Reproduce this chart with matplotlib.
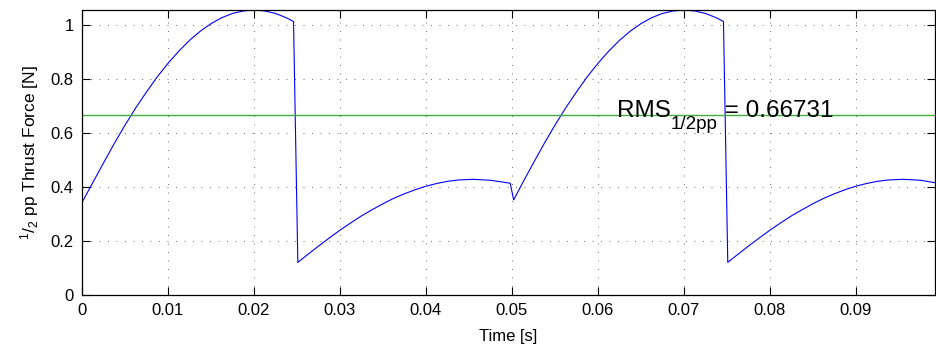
import numpy as np
import matplotlib.pyplot as plt

plt.rcParams['font.family'] = ['Liberation Sans', 'DejaVu Sans']
plt.rcParams['mathtext.fontset'] = 'custom'
plt.rcParams['mathtext.rm'] = 'Liberation Sans'
plt.rcParams['mathtext.it'] = 'Liberation Sans'

# time [s] and half peak-to-peak thrust force [N]
time = [0.0, 0.00125, 0.0025, 0.00375, 0.005, 0.00625, 0.0075, 0.00875, 0.01, 0.01125,
        0.0125, 0.01375, 0.015, 0.01625, 0.0175, 0.01875, 0.02, 0.02125, 0.0225, 0.02375,
        0.0246,
        0.0251, 0.02625, 0.0275, 0.02875, 0.03, 0.03125, 0.0325, 0.03375, 0.035, 0.03625,
        0.0375, 0.03875, 0.04, 0.04125, 0.0425, 0.04375, 0.0455, 0.0475, 0.0498,
        0.0502, 0.05125, 0.0525, 0.05375, 0.055, 0.05625, 0.0575, 0.05875, 0.06, 0.06125,
        0.0625, 0.06375, 0.065, 0.06625, 0.0675, 0.06875, 0.07, 0.07125, 0.0725, 0.07375,
        0.0746,
        0.0751, 0.07625, 0.0775, 0.07875, 0.08, 0.08125, 0.0825, 0.08375, 0.085, 0.08625,
        0.0875, 0.08875, 0.09, 0.09125, 0.0925, 0.09375, 0.0955, 0.0975, 0.0992]
force = [0.343, 0.416, 0.489, 0.561, 0.629, 0.693, 0.752, 0.808, 0.858, 0.903,
         0.943, 0.977, 1.005, 1.027, 1.043, 1.052, 1.0556, 1.052, 1.043, 1.027,
         1.013,
         0.121, 0.150, 0.181, 0.211, 0.240, 0.267, 0.293, 0.316, 0.338, 0.358,
         0.375, 0.390, 0.403, 0.413, 0.421, 0.426, 0.4285, 0.425, 0.414,
         0.352, 0.416, 0.489, 0.561, 0.629, 0.693, 0.752, 0.808, 0.858, 0.903,
         0.943, 0.977, 1.005, 1.027, 1.043, 1.052, 1.0556, 1.052, 1.043, 1.027,
         1.013,
         0.121, 0.150, 0.181, 0.211, 0.240, 0.267, 0.293, 0.316, 0.338, 0.358,
         0.375, 0.390, 0.403, 0.413, 0.421, 0.426, 0.4285, 0.425, 0.416]
rms = 0.66731

xticks = [0, 0.01, 0.02, 0.03, 0.04, 0.05, 0.06, 0.07, 0.08, 0.09]
yticks = [0, 0.2, 0.4, 0.6, 0.8, 1]

fig = plt.figure(figsize=(9.36, 3.5), dpi=100)
ax = fig.add_axes([82/936, 55/350, 853/936, 285/350])

ax.plot(time, force, color='#0000ff', linewidth=0.8)
ax.axhline(rms, color='#3fae3f', linewidth=1.0)

# RMS label: main text, lowered subscript, then value
t1 = ax.text(0.0622, 0.659, 'RMS', fontsize=17.5, va='baseline', ha='left')
t2 = ax.annotate('1/2pp', xy=(1, 0.659), xycoords=(t1, 'data'),
                 xytext=(0, -8.5), textcoords='offset points',
                 fontsize=13.5, va='baseline', ha='left')
ax.annotate(' = %.5f' % rms, xy=(1, 0.659), xycoords=(t2, 'data'),
            fontsize=17.5, va='baseline', ha='left')

ax.set_xlim(0, time[-1])
ax.set_ylim(0, max(force))
ax.set_xticks(xticks)
ax.set_yticks(yticks)
ax.set_xticklabels(['%g' % v for v in xticks])
ax.set_yticklabels(['%g' % v for v in yticks])
ax.tick_params(direction='in', top=True, right=True, length=6, width=0.8,
               labelsize=12, pad=6)
for s in ax.spines.values():
    s.set_linewidth(0.9)

ax.grid(True, color='0.35', linestyle=(0, (1.2, 9.0)), linewidth=0.6)
ax.set_xlabel('Time [s]', fontsize=12, labelpad=8)
ax.set_ylabel(r'$^{1}$/$_{2}$ pp Thrust Force [N]', fontsize=12.5, labelpad=7)

fig.savefig('out.png', dpi=100)
